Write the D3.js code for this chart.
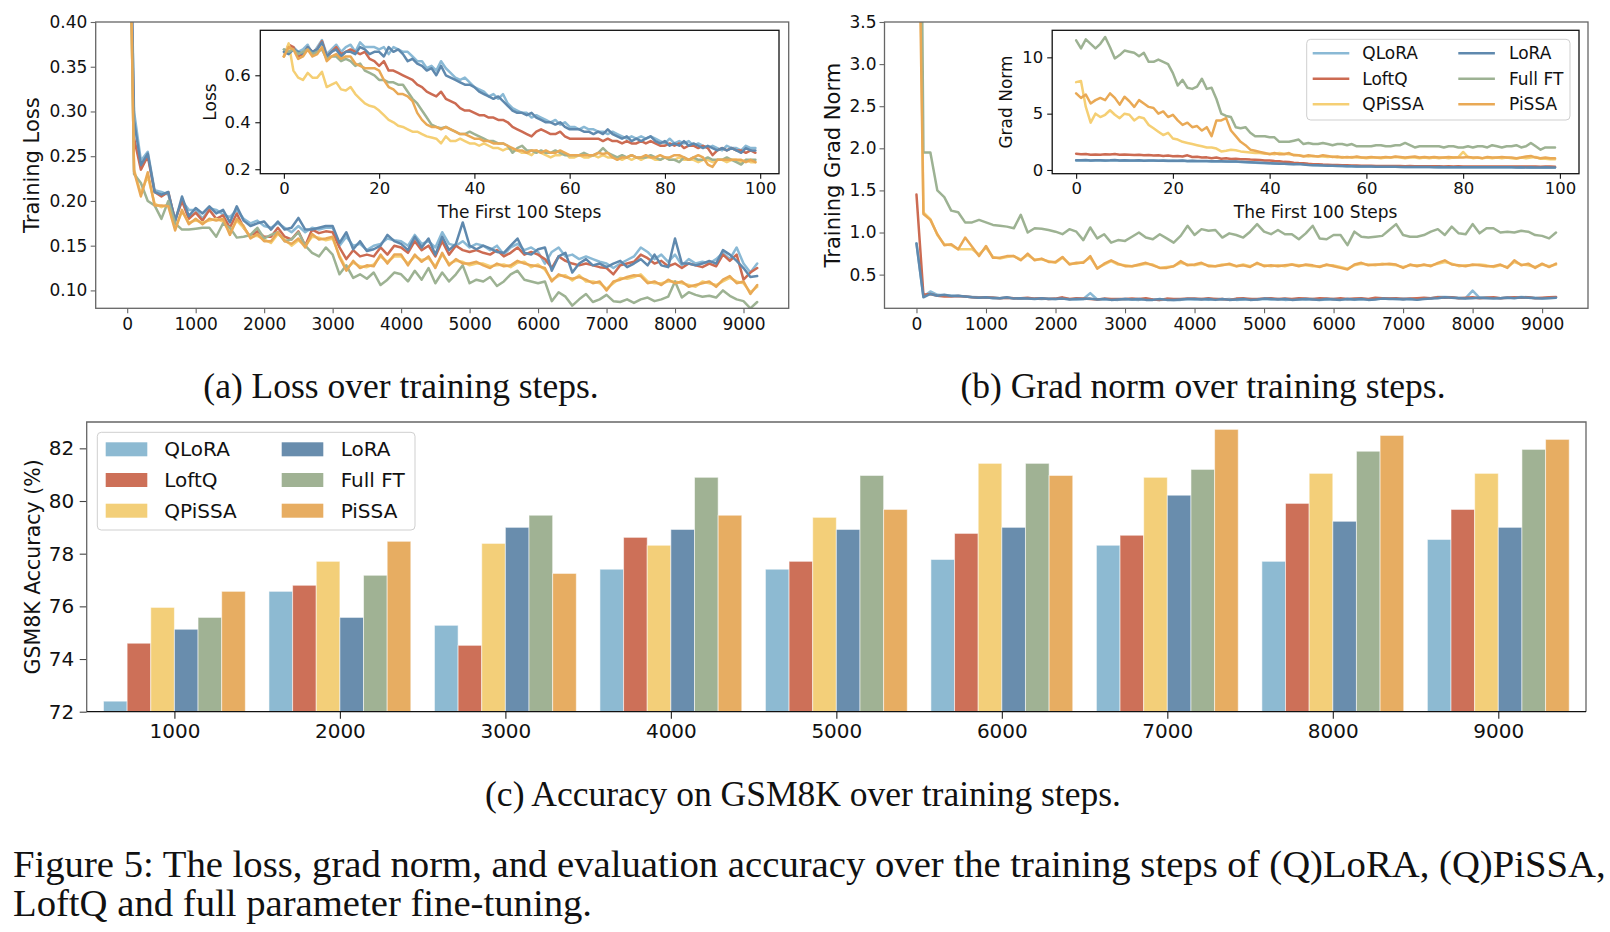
<!DOCTYPE html>
<html>
<head>
<meta charset="utf-8">
<script src="https://cdn.jsdelivr.net/npm/d3@7"></script>
<style>
  body { margin: 0; background: #fff; }
  .cap { font-family: "Liberation Serif", "Times New Roman", serif; fill: #111; }
</style>
</head>
<body>
<svg id="fig" width="1610" height="932"></svg>
<script>
// ---------- data ----------
var methods = ["QLoRA", "LoftQ", "QPiSSA", "LoRA", "Full FT", "PiSSA"];
var lineColors = ["#8ab9d5", "#cc6b52", "#f5cf74", "#5f89ae", "#9db293", "#e9a955"];
var barColors  = ["#8dbad2", "#cd7058", "#f3cf79", "#698dad", "#a0b294", "#e7ad62"];

// training loss, logged every 100 steps (0 .. 9200)
var lossQLoRA = [0.70,0.30,0.245,0.255,0.212,0.21,0.207,0.18,0.20,0.19,
  0.19,0.18,0.192,0.19,0.185,0.182,0.19,0.18,0.175,0.178,
  0.172,0.17,0.175,0.17,0.165,0.172,0.165,0.17,0.168,0.17,
  0.17,0.15,0.16,0.15,0.152,0.145,0.15,0.152,0.158,0.156,
  0.155,0.15,0.162,0.152,0.155,0.148,0.165,0.152,0.15,0.155,
  0.148,0.152,0.15,0.145,0.15,0.14,0.148,0.152,0.145,0.148,
  0.143,0.13,0.143,0.148,0.138,0.14,0.135,0.138,0.135,0.132,
  0.13,0.125,0.13,0.134,0.138,0.148,0.143,0.135,0.14,0.132,
  0.14,0.128,0.135,0.13,0.132,0.13,0.135,0.142,0.135,0.148,
  0.13,0.12,0.13];
var lossLoftQ = [0.70,0.27,0.235,0.25,0.21,0.205,0.21,0.178,0.20,0.18,
  0.187,0.178,0.19,0.18,0.184,0.17,0.186,0.17,0.16,0.166,
  0.16,0.16,0.17,0.16,0.157,0.166,0.15,0.168,0.164,0.166,
  0.165,0.148,0.135,0.145,0.138,0.14,0.138,0.148,0.14,0.15,
  0.148,0.142,0.155,0.145,0.15,0.138,0.155,0.14,0.15,0.145,
  0.143,0.145,0.142,0.14,0.145,0.138,0.142,0.148,0.14,0.143,
  0.14,0.135,0.125,0.138,0.133,0.13,0.128,0.13,0.128,0.126,
  0.125,0.118,0.128,0.13,0.132,0.14,0.136,0.13,0.133,0.127,
  0.13,0.125,0.13,0.128,0.126,0.13,0.127,0.14,0.133,0.14,
  0.112,0.12,0.125];
var lossQPiSSA = [0.68,0.235,0.208,0.228,0.197,0.193,0.196,0.17,0.188,0.176,
  0.178,0.176,0.178,0.18,0.177,0.165,0.178,0.17,0.16,0.161,
  0.157,0.153,0.163,0.157,0.15,0.156,0.15,0.16,0.159,0.156,
  0.158,0.139,0.124,0.131,0.127,0.126,0.129,0.138,0.132,0.138,
  0.138,0.13,0.138,0.134,0.136,0.127,0.14,0.13,0.133,0.132,
  0.128,0.13,0.13,0.127,0.128,0.129,0.126,0.131,0.132,0.126,
  0.129,0.123,0.112,0.116,0.117,0.111,0.117,0.11,0.11,0.108,
  0.102,0.108,0.114,0.113,0.115,0.118,0.11,0.108,0.108,0.11,
  0.11,0.108,0.106,0.104,0.11,0.108,0.106,0.11,0.114,0.11,
  0.108,0.098,0.104];
var lossLoRA = [0.70,0.29,0.24,0.253,0.21,0.207,0.21,0.177,0.205,0.183,
  0.192,0.186,0.194,0.186,0.19,0.176,0.194,0.178,0.172,0.175,
  0.177,0.168,0.177,0.168,0.17,0.181,0.168,0.168,0.17,0.172,
  0.172,0.153,0.165,0.146,0.155,0.144,0.146,0.15,0.162,0.155,
  0.152,0.145,0.16,0.148,0.158,0.14,0.16,0.145,0.152,0.176,
  0.15,0.146,0.15,0.147,0.143,0.142,0.15,0.158,0.142,0.14,
  0.146,0.148,0.122,0.138,0.142,0.12,0.13,0.135,0.128,0.13,
  0.126,0.13,0.133,0.126,0.13,0.135,0.128,0.14,0.128,0.126,
  0.158,0.13,0.13,0.128,0.13,0.133,0.13,0.145,0.14,0.133,
  0.125,0.115,0.116];
var lossFullFT = [0.71,0.23,0.22,0.20,0.195,0.18,0.20,0.175,0.168,0.168,
  0.169,0.17,0.17,0.16,0.175,0.17,0.159,0.16,0.162,0.17,
  0.158,0.162,0.165,0.155,0.157,0.165,0.15,0.142,0.138,0.148,
  0.14,0.118,0.128,0.114,0.118,0.113,0.12,0.106,0.112,0.12,
  0.118,0.11,0.122,0.112,0.125,0.108,0.12,0.11,0.118,0.128,
  0.108,0.112,0.11,0.115,0.105,0.11,0.118,0.122,0.112,0.11,
  0.108,0.11,0.088,0.098,0.093,0.083,0.09,0.096,0.087,0.09,
  0.095,0.088,0.087,0.09,0.086,0.09,0.092,0.088,0.09,0.093,
  0.11,0.092,0.098,0.095,0.093,0.094,0.092,0.1,0.094,0.09,
  0.088,0.08,0.087];
var lossPiSSA = [0.70,0.233,0.205,0.232,0.195,0.195,0.194,0.167,0.19,0.174,
  0.18,0.174,0.18,0.178,0.18,0.162,0.18,0.172,0.158,0.163,
  0.155,0.155,0.165,0.155,0.152,0.158,0.148,0.163,0.157,0.158,
  0.16,0.137,0.122,0.133,0.125,0.128,0.127,0.14,0.13,0.14,
  0.14,0.128,0.14,0.132,0.138,0.125,0.142,0.128,0.135,0.13,
  0.13,0.132,0.128,0.125,0.13,0.127,0.128,0.133,0.13,0.128,
  0.127,0.125,0.11,0.118,0.115,0.113,0.115,0.112,0.108,0.11,
  0.1,0.11,0.112,0.115,0.117,0.116,0.108,0.11,0.106,0.112,
  0.108,0.11,0.104,0.106,0.108,0.11,0.104,0.112,0.116,0.108,
  0.11,0.096,0.106];

// loss over the first 100 steps (0 .. 99)
var firstLossQLoRA = [0.71,0.70,0.72,0.70,0.71,0.73,0.69,0.72,0.75,0.69,
  0.71,0.73,0.70,0.72,0.73,0.70,0.74,0.72,0.72,0.72,
  0.71,0.72,0.69,0.72,0.71,0.70,0.70,0.68,0.66,0.66,
  0.63,0.64,0.62,0.66,0.63,0.61,0.59,0.58,0.59,0.57,
  0.55,0.54,0.53,0.51,0.52,0.50,0.52,0.48,0.46,0.45,
  0.44,0.44,0.42,0.43,0.42,0.41,0.40,0.41,0.39,0.40,
  0.38,0.38,0.37,0.38,0.37,0.37,0.36,0.36,0.35,0.36,
  0.35,0.34,0.33,0.34,0.33,0.34,0.33,0.34,0.33,0.32,
  0.31,0.33,0.31,0.32,0.31,0.32,0.30,0.31,0.30,0.29,
  0.30,0.29,0.28,0.30,0.29,0.29,0.28,0.30,0.29,0.29];
var firstLossLoftQ = [0.68,0.73,0.72,0.68,0.69,0.72,0.70,0.71,0.745,0.68,
  0.70,0.72,0.69,0.70,0.71,0.70,0.69,0.70,0.67,0.66,
  0.64,0.66,0.62,0.62,0.61,0.60,0.59,0.58,0.56,0.55,
  0.53,0.52,0.51,0.53,0.50,0.49,0.48,0.46,0.45,0.45,
  0.44,0.43,0.43,0.42,0.42,0.41,0.41,0.40,0.38,0.37,
  0.36,0.35,0.34,0.36,0.37,0.36,0.35,0.35,0.36,0.34,
  0.33,0.33,0.33,0.33,0.33,0.33,0.33,0.32,0.33,0.32,
  0.32,0.31,0.32,0.31,0.31,0.32,0.31,0.32,0.31,0.30,
  0.30,0.31,0.30,0.31,0.29,0.30,0.30,0.29,0.30,0.29,
  0.26,0.28,0.29,0.28,0.29,0.28,0.28,0.27,0.28,0.27];
var firstLossQPiSSA = [0.68,0.736,0.62,0.59,0.58,0.61,0.59,0.59,0.615,0.55,
  0.56,0.57,0.54,0.535,0.55,0.52,0.50,0.48,0.47,0.465,
  0.45,0.43,0.41,0.40,0.385,0.38,0.37,0.36,0.36,0.35,
  0.34,0.335,0.33,0.31,0.34,0.32,0.32,0.33,0.32,0.31,
  0.31,0.30,0.31,0.30,0.29,0.29,0.28,0.29,0.28,0.28,
  0.27,0.27,0.26,0.28,0.27,0.26,0.25,0.26,0.26,0.27,
  0.25,0.25,0.26,0.25,0.25,0.26,0.25,0.26,0.25,0.25,
  0.25,0.24,0.25,0.24,0.25,0.24,0.25,0.25,0.24,0.24,
  0.25,0.24,0.24,0.25,0.24,0.24,0.24,0.23,0.24,0.24,
  0.23,0.24,0.24,0.23,0.24,0.24,0.23,0.24,0.23,0.23];
var firstLossLoRA = [0.70,0.69,0.71,0.70,0.69,0.72,0.70,0.71,0.74,0.68,
  0.70,0.71,0.68,0.70,0.70,0.69,0.72,0.71,0.69,0.70,
  0.70,0.68,0.72,0.70,0.71,0.69,0.66,0.67,0.65,0.64,
  0.62,0.63,0.60,0.64,0.60,0.59,0.58,0.57,0.56,0.56,
  0.55,0.53,0.52,0.51,0.50,0.51,0.49,0.47,0.45,0.44,
  0.44,0.43,0.44,0.42,0.41,0.40,0.40,0.39,0.40,0.38,
  0.37,0.37,0.37,0.36,0.36,0.35,0.36,0.35,0.37,0.35,
  0.34,0.33,0.34,0.32,0.33,0.32,0.33,0.34,0.32,0.31,
  0.32,0.30,0.31,0.30,0.32,0.30,0.31,0.30,0.29,0.30,
  0.29,0.28,0.29,0.28,0.29,0.28,0.27,0.29,0.28,0.28];
var firstLossFullFT = [0.71,0.70,0.71,0.69,0.70,0.71,0.69,0.70,0.71,0.67,
  0.68,0.68,0.66,0.67,0.66,0.64,0.65,0.62,0.61,0.60,
  0.58,0.58,0.57,0.57,0.56,0.56,0.53,0.50,0.48,0.45,
  0.42,0.39,0.38,0.375,0.38,0.37,0.36,0.35,0.35,0.36,
  0.35,0.34,0.33,0.32,0.32,0.31,0.31,0.30,0.27,0.29,
  0.30,0.28,0.28,0.27,0.28,0.27,0.27,0.28,0.27,0.26,
  0.26,0.26,0.26,0.27,0.26,0.26,0.27,0.29,0.27,0.26,
  0.25,0.26,0.25,0.26,0.25,0.25,0.25,0.26,0.25,0.24,
  0.25,0.24,0.24,0.23,0.25,0.24,0.25,0.24,0.24,0.25,
  0.24,0.24,0.24,0.25,0.24,0.23,0.22,0.24,0.24,0.24];
var firstLossPiSSA = [0.68,0.72,0.71,0.67,0.68,0.71,0.68,0.69,0.72,0.66,
  0.68,0.69,0.67,0.68,0.68,0.65,0.64,0.63,0.63,0.63,
  0.62,0.58,0.55,0.54,0.52,0.52,0.51,0.49,0.44,0.41,
  0.39,0.38,0.38,0.37,0.38,0.37,0.36,0.35,0.35,0.34,
  0.33,0.33,0.32,0.32,0.31,0.31,0.31,0.30,0.29,0.28,
  0.28,0.27,0.28,0.28,0.27,0.28,0.27,0.27,0.28,0.27,
  0.26,0.26,0.26,0.26,0.26,0.26,0.27,0.265,0.27,0.25,
  0.24,0.25,0.25,0.26,0.25,0.25,0.26,0.25,0.25,0.26,
  0.25,0.25,0.26,0.26,0.25,0.24,0.25,0.26,0.25,0.22,
  0.21,0.24,0.24,0.24,0.24,0.24,0.24,0.23,0.24,0.23];

// training grad norm, logged every 100 steps (0 .. 9200)
var gradQLoRA = [0.87,0.24,0.30,0.26,0.255,0.25,0.245,0.24,0.235,0.23,
  0.225,0.23,0.22,0.225,0.22,0.215,0.22,0.215,0.21,0.215,
  0.21,0.22,0.21,0.205,0.21,0.28,0.205,0.21,0.205,0.2,
  0.21,0.205,0.2,0.21,0.205,0.2,0.205,0.2,0.2,0.21,
  0.205,0.21,0.2,0.21,0.205,0.21,0.2,0.205,0.21,0.2,
  0.21,0.205,0.21,0.2,0.205,0.21,0.205,0.21,0.2,0.205,
  0.21,0.205,0.21,0.2,0.21,0.205,0.21,0.22,0.215,0.21,
  0.215,0.21,0.205,0.215,0.22,0.235,0.235,0.23,0.225,0.22,
  0.31,0.225,0.23,0.225,0.22,0.23,0.225,0.235,0.23,0.225,
  0.22,0.225,0.23];
var gradLoftQ = [1.45,0.26,0.27,0.25,0.24,0.24,0.245,0.24,0.23,0.225,
  0.23,0.225,0.22,0.225,0.22,0.22,0.225,0.215,0.22,0.21,
  0.215,0.23,0.21,0.22,0.215,0.21,0.205,0.215,0.21,0.21,
  0.21,0.215,0.21,0.22,0.205,0.2,0.215,0.21,0.21,0.215,
  0.215,0.21,0.22,0.21,0.21,0.2,0.215,0.22,0.21,0.21,
  0.215,0.22,0.21,0.215,0.21,0.22,0.215,0.21,0.22,0.215,
  0.21,0.22,0.21,0.215,0.22,0.21,0.225,0.22,0.215,0.22,
  0.21,0.215,0.22,0.225,0.22,0.23,0.225,0.23,0.22,0.225,
  0.23,0.22,0.225,0.23,0.22,0.225,0.23,0.225,0.23,0.22,
  0.225,0.23,0.235];
var gradQPiSSA = [7.8,1.24,1.16,0.97,0.86,0.85,0.80,0.80,0.80,0.74,
  0.82,0.71,0.69,0.71,0.72,0.68,0.73,0.68,0.68,0.66,
  0.64,0.70,0.63,0.63,0.65,0.70,0.58,0.62,0.66,0.62,
  0.61,0.60,0.61,0.63,0.62,0.58,0.59,0.60,0.64,0.62,
  0.61,0.63,0.61,0.60,0.62,0.62,0.60,0.62,0.60,0.63,
  0.61,0.60,0.61,0.60,0.62,0.61,0.61,0.60,0.60,0.61,
  0.61,0.59,0.57,0.61,0.63,0.62,0.61,0.63,0.62,0.61,
  0.59,0.61,0.61,0.61,0.61,0.63,0.65,0.63,0.60,0.61,
  0.61,0.62,0.61,0.59,0.61,0.59,0.65,0.62,0.61,0.59,
  0.62,0.60,0.62];
var gradLoRA = [0.87,0.23,0.27,0.25,0.26,0.245,0.25,0.24,0.23,0.225,
  0.23,0.22,0.22,0.23,0.215,0.22,0.215,0.21,0.22,0.21,
  0.21,0.215,0.205,0.21,0.21,0.215,0.205,0.21,0.2,0.205,
  0.21,0.205,0.21,0.2,0.2,0.21,0.2,0.2,0.205,0.21,
  0.21,0.205,0.21,0.2,0.21,0.2,0.205,0.21,0.2,0.205,
  0.215,0.21,0.205,0.21,0.2,0.205,0.21,0.205,0.2,0.21,
  0.205,0.2,0.21,0.205,0.21,0.2,0.205,0.215,0.21,0.21,
  0.205,0.21,0.2,0.21,0.215,0.22,0.23,0.225,0.22,0.215,
  0.22,0.225,0.22,0.215,0.22,0.225,0.22,0.23,0.225,0.22,
  0.215,0.22,0.225];
var gradFullFT = [11.5,1.95,1.95,1.5,1.42,1.26,1.24,1.12,1.12,1.15,
  1.12,1.09,1.08,1.07,1.05,1.21,1.0,1.05,1.045,1.03,
  1.01,0.98,1.04,1.01,0.91,1.06,0.93,0.98,0.88,0.91,
  0.90,0.95,1.0,0.94,0.92,0.98,0.93,0.88,0.96,1.08,
  0.97,1.04,1.02,1.03,0.94,0.99,0.97,0.94,1.01,1.1,
  1.01,0.98,1.03,0.98,0.98,0.92,0.99,1.08,0.93,0.92,
  0.97,0.97,0.85,1.01,0.95,0.94,0.95,0.96,1.03,1.1,
  0.97,0.95,0.95,0.97,1.01,1.04,0.97,1.07,0.99,0.98,
  1.1,0.99,1.05,1.05,1.0,1.01,1.0,1.02,1.01,0.97,
  0.96,0.93,1.0];
var gradPiSSA = [6.7,1.22,1.15,0.98,0.85,0.86,0.80,0.94,0.83,0.72,
  0.84,0.70,0.70,0.72,0.72,0.67,0.75,0.67,0.69,0.65,
  0.65,0.71,0.62,0.64,0.64,0.72,0.57,0.63,0.67,0.63,
  0.60,0.60,0.62,0.64,0.61,0.58,0.58,0.60,0.66,0.61,
  0.62,0.64,0.60,0.60,0.61,0.63,0.60,0.61,0.59,0.64,
  0.60,0.61,0.60,0.61,0.62,0.60,0.62,0.61,0.59,0.62,
  0.60,0.58,0.56,0.62,0.64,0.61,0.62,0.62,0.63,0.62,
  0.58,0.62,0.60,0.62,0.60,0.64,0.67,0.62,0.61,0.60,
  0.62,0.61,0.60,0.60,0.62,0.58,0.67,0.61,0.63,0.58,
  0.63,0.59,0.63];

// grad norm over the first 100 steps (0 .. 99)
var firstGradQLoRA = [0.85,0.84,0.86,0.83,0.84,0.85,0.83,0.84,0.86,0.82,
  0.84,0.83,0.82,0.84,0.81,0.83,0.82,0.81,0.83,0.80,
  0.81,0.80,0.82,0.78,0.80,0.78,0.77,0.78,0.76,0.76,
  0.76,0.75,0.74,0.75,0.71,0.69,0.67,0.65,0.63,0.62,
  0.60,0.58,0.57,0.55,0.54,0.52,0.58,0.50,0.46,0.44,
  0.43,0.41,0.39,0.38,0.37,0.35,0.34,0.34,0.32,0.31,
  0.31,0.30,0.30,0.29,0.29,0.28,0.28,0.28,0.27,0.27,
  0.27,0.26,0.26,0.26,0.26,0.25,0.26,0.25,0.25,0.25,
  0.25,0.25,0.24,0.25,0.24,0.24,0.25,0.24,0.24,0.24,
  0.24,0.24,0.23,0.24,0.23,0.24,0.23,0.23,0.24,0.23];
var firstGradLoftQ = [1.45,1.40,1.42,1.35,1.38,1.36,1.40,1.38,1.42,1.35,
  1.38,1.35,1.32,1.36,1.30,1.32,1.28,1.30,1.25,1.28,
  1.22,1.25,1.20,1.30,1.15,1.18,1.10,1.12,1.05,1.10,
  1.00,1.05,0.98,1.00,0.95,0.95,0.92,0.90,0.88,0.85,
  0.85,0.80,0.78,0.72,0.70,0.65,0.62,0.60,0.55,0.52,
  0.50,0.48,0.47,0.45,0.44,0.42,0.41,0.40,0.40,0.38,
  0.38,0.37,0.36,0.36,0.35,0.36,0.35,0.35,0.34,0.35,
  0.34,0.34,0.33,0.34,0.33,0.33,0.32,0.33,0.32,0.33,
  0.32,0.32,0.31,0.32,0.31,0.32,0.31,0.30,0.31,0.30,
  0.31,0.30,0.30,0.31,0.30,0.30,0.29,0.30,0.30,0.29];
var firstGradQPiSSA = [7.8,7.9,5.6,4.2,5.0,4.7,4.9,5.3,4.9,4.6,
  5.0,4.9,4.4,4.7,4.6,4.0,3.7,3.4,3.1,3.3,
  2.8,2.7,2.5,2.4,2.3,2.2,2.1,2.0,2.0,1.9,
  1.65,1.7,1.8,1.75,1.65,1.6,1.55,1.5,1.5,1.45,
  1.45,1.4,1.5,1.45,1.4,1.35,1.3,1.25,1.2,1.25,
  1.2,1.2,1.15,1.2,1.1,1.15,1.1,1.15,1.1,1.1,
  1.05,1.1,1.1,1.05,1.1,1.1,1.15,1.1,1.05,1.1,
  1.1,1.05,1.1,1.05,1.1,1.05,1.1,1.05,1.1,1.15,
  1.6,1.15,1.05,1.1,1.05,1.1,1.05,1.1,1.05,1.1,
  1.05,1.0,1.1,1.05,1.1,1.15,1.0,1.0,0.95,0.95];
var firstGradLoRA = [0.87,0.86,0.88,0.85,0.86,0.87,0.85,0.86,0.88,0.84,
  0.86,0.85,0.84,0.86,0.83,0.85,0.84,0.83,0.85,0.82,
  0.83,0.82,0.84,0.80,0.82,0.80,0.79,0.80,0.78,0.77,
  0.78,0.76,0.75,0.76,0.72,0.70,0.68,0.66,0.64,0.62,
  0.60,0.58,0.56,0.55,0.53,0.50,0.52,0.48,0.45,0.43,
  0.42,0.40,0.38,0.37,0.36,0.35,0.34,0.33,0.32,0.31,
  0.30,0.30,0.29,0.29,0.28,0.28,0.28,0.27,0.27,0.27,
  0.26,0.26,0.26,0.26,0.25,0.26,0.25,0.25,0.25,0.25,
  0.25,0.24,0.25,0.24,0.24,0.25,0.24,0.24,0.24,0.24,
  0.24,0.23,0.24,0.23,0.24,0.23,0.23,0.24,0.23,0.23];
var firstGradFullFT = [11.5,10.8,11.6,11.2,10.8,11.2,11.8,10.9,9.9,10.2,
  10.6,10.5,10.4,10.1,10.4,9.6,9.6,9.8,9.6,9.4,
  8.6,7.5,8.0,7.3,7.2,7.4,8.1,7.2,7.3,6.3,
  5.0,4.8,4.7,3.8,3.7,3.8,3.3,3.0,3.0,3.0,
  2.9,2.9,2.5,2.5,2.5,2.6,2.7,2.3,2.4,2.3,
  2.3,2.4,2.3,2.2,2.3,2.3,2.2,2.3,2.1,2.1,
  2.1,2.1,2.2,2.2,2.1,2.1,2.2,2.2,2.4,2.2,
  2.0,2.1,2.1,2.1,2.1,2.1,2.0,2.1,2.1,2.0,
  2.0,2.1,2.0,2.1,2.1,2.0,2.2,2.1,2.0,2.1,
  2.1,2.2,2.0,2.1,2.4,2.1,1.8,2.0,2.0,2.0];
var firstGradPiSSA = [6.8,6.4,6.7,5.9,6.2,6.4,6.2,6.8,6.4,5.8,
  6.5,6.1,5.6,6.2,5.9,5.6,5.5,5.0,5.2,4.7,
  4.9,4.4,4.0,4.2,3.8,3.9,3.5,3.8,3.0,4.4,
  4.4,4.6,3.5,3.0,2.5,2.2,1.8,1.7,1.6,1.5,
  1.4,1.5,1.4,1.4,1.5,1.3,1.3,1.2,1.3,1.25,
  1.2,1.3,1.25,1.15,1.2,1.1,1.15,1.1,1.2,1.1,
  1.1,1.15,1.1,1.1,1.15,1.1,1.2,1.15,1.1,1.15,
  1.2,1.1,1.15,1.1,1.15,1.1,1.1,1.15,1.1,1.1,
  1.1,1.15,1.1,1.1,1.05,1.15,1.1,1.1,1.15,1.1,
  1.1,1.05,1.1,1.2,1.25,1.1,1.05,1.1,1.05,1.05];

// GSM8K accuracy (%) at evaluation checkpoints
var evalSteps = [1000, 2000, 3000, 4000, 5000, 6000, 7000, 8000, 9000];
var accQLoRA  = [72.4, 76.57, 75.28, 77.41, 77.41, 77.78, 78.32, 77.71, 78.54];
var accLoftQ  = [74.6, 76.8, 74.52, 78.62, 77.71, 78.77, 78.7, 79.91, 79.68];
var accQPiSSA = [75.96, 77.71, 78.39, 78.32, 79.38, 81.43, 80.9, 81.05, 81.05];
var accLoRA   = [75.13, 75.58, 79.0, 78.92, 78.92, 79.0, 80.22, 79.23, 79.0];
var accFullFT = [75.58, 77.18, 79.46, 80.9, 80.97, 81.43, 81.2, 81.89, 81.96];
var accPiSSA  = [76.57, 78.47, 77.25, 79.46, 79.68, 80.97, 82.72, 82.49, 82.34];

var mainSteps = d3.range(0, 9201, 100);
var firstSteps = d3.range(0, 100);

// ---------- drawing ----------
var FONT = "DejaVu Sans, sans-serif";
var svg = d3.select("#fig");

function styleAxis(a, fs, tickColor) {
  a.select(".domain").remove();
  a.attr("font-family", FONT).attr("font-size", fs);
  a.selectAll(".tick line").attr("stroke", tickColor).attr("stroke-width", 1.1);
  a.selectAll(".tick text").attr("fill", "#111");
}

function panel(cfg) {
  var b = cfg.box;
  var x = d3.scaleLinear().domain(cfg.xDomain).range([b.x0, b.x1]);
  var y = d3.scaleLinear().domain(cfg.yDomain).range([b.y1, b.y0]);
  var g = svg.append("g");

  g.append("rect").attr("x", b.x0).attr("y", b.y0)
    .attr("width", b.x1 - b.x0).attr("height", b.y1 - b.y0).attr("fill", "#fff");

  g.append("clipPath").attr("id", "clip-" + cfg.id).append("rect")
    .attr("x", b.x0).attr("y", b.y0).attr("width", b.x1 - b.x0).attr("height", b.y1 - b.y0);

  var plot = g.append("g").attr("clip-path", "url(#clip-" + cfg.id + ")");
  var line = d3.line().x(function (d, i) { return x(cfg.xs[i]); }).y(function (d) { return y(d); });
  cfg.series.forEach(function (s, k) {
    plot.append("path").attr("d", line(s)).attr("fill", "none")
      .attr("stroke", lineColors[k]).attr("stroke-width", 2.5)
      .attr("stroke-linejoin", "round").attr("stroke-linecap", "round");
  });

  var ax = g.append("g").attr("transform", "translate(0," + b.y1 + ")")
    .call(d3.axisBottom(x).tickValues(cfg.xTicks).tickFormat(d3.format("d"))
      .tickSize(5).tickPadding(cfg.xPad));
  var ay = g.append("g").attr("transform", "translate(" + b.x0 + ",0)")
    .call(d3.axisLeft(y).tickValues(cfg.yTicks).tickFormat(cfg.yFmt)
      .tickSize(5).tickPadding(cfg.yPad));
  styleAxis(ax, cfg.fs, cfg.spine);
  styleAxis(ay, cfg.fs, cfg.spine);

  g.append("rect").attr("x", b.x0).attr("y", b.y0)
    .attr("width", b.x1 - b.x0).attr("height", b.y1 - b.y0)
    .attr("fill", "none").attr("stroke", cfg.spine).attr("stroke-width", 1.3);

  if (cfg.xLabel) {
    g.append("text").attr("x", (b.x0 + b.x1) / 2).attr("y", cfg.xLabelY)
      .attr("text-anchor", "middle").attr("font-family", FONT).attr("font-size", cfg.labelFs)
      .attr("fill", "#111").text(cfg.xLabel);
  }
  g.append("text")
    .attr("transform", "translate(" + cfg.yLabelX + "," + (b.y0 + b.y1) / 2 + ") rotate(-90)")
    .attr("text-anchor", "middle").attr("dy", "0.35em")
    .attr("font-family", FONT).attr("font-size", cfg.labelFs).attr("fill", "#111")
    .text(cfg.yLabel);
  return g;
}

// (a) loss
panel({
  id: "lossMain", box: { x0: 95.7, x1: 788.7, y0: 22, y1: 308.3 },
  xDomain: [-460, 9660], yDomain: [0.08, 0.40], xs: mainSteps,
  series: [lossQLoRA, lossLoftQ, lossQPiSSA, lossLoRA, lossFullFT, lossPiSSA],
  xTicks: d3.range(0, 9001, 1000), yTicks: [0.10, 0.15, 0.20, 0.25, 0.30, 0.35, 0.40],
  yFmt: d3.format(".2f"), fs: 17, xPad: 5, yPad: 3.4, spine: "#666",
  yLabel: "Training Loss", yLabelX: 32, labelFs: 21
});
panel({
  id: "lossFirst", box: { x0: 260.3, x1: 779, y0: 30.3, y1: 173.7 },
  xDomain: [-4.95, 103.95], yDomain: [0.181, 0.7915], xs: firstSteps,
  series: [firstLossQLoRA, firstLossLoftQ, firstLossQPiSSA, firstLossLoRA, firstLossFullFT, firstLossPiSSA],
  xTicks: [0, 20, 40, 60, 80, 100], yTicks: [0.2, 0.4, 0.6],
  yFmt: d3.format(".1f"), fs: 16.5, xPad: 4, yPad: 4.6, spine: "#111",
  xLabel: "The First 100 Steps", xLabelY: 218, yLabel: "Loss", yLabelX: 210, labelFs: 17
});

// (b) grad norm
panel({
  id: "gradMain", box: { x0: 884.5, x1: 1588, y0: 22, y1: 308.3 },
  xDomain: [-460, 9660], yDomain: [0.1, 3.5], xs: mainSteps,
  series: [gradQLoRA, gradLoftQ, gradQPiSSA, gradLoRA, gradFullFT, gradPiSSA],
  xTicks: d3.range(0, 9001, 1000), yTicks: [0.5, 1.0, 1.5, 2.0, 2.5, 3.0, 3.5],
  yFmt: d3.format(".1f"), fs: 17, xPad: 5, yPad: 3, spine: "#666",
  yLabel: "Training Grad Norm", yLabelX: 832.5, labelFs: 21
});
panel({
  id: "gradFirst", box: { x0: 1052.2, x1: 1579, y0: 30.3, y1: 173.7 },
  xDomain: [-4.95, 103.95], yDomain: [-0.33, 12.4], xs: firstSteps,
  series: [firstGradQLoRA, firstGradLoftQ, firstGradQPiSSA, firstGradLoRA, firstGradFullFT, firstGradPiSSA],
  xTicks: [0, 20, 40, 60, 80, 100], yTicks: [0, 5, 10],
  yFmt: d3.format("d"), fs: 16.5, xPad: 4, yPad: 4, spine: "#111",
  xLabel: "The First 100 Steps", xLabelY: 218, yLabel: "Grad Norm", yLabelX: 1006.3, labelFs: 17
});

// legend of the grad-norm inset
(function () {
  var lg = svg.append("g");
  lg.append("rect").attr("x", 1306.7).attr("y", 39.3).attr("width", 263.3).attr("height", 80.7)
    .attr("rx", 4).attr("fill", "#fff").attr("fill-opacity", 0.85)
    .attr("stroke", "#cfcfcf").attr("stroke-width", 1);
  methods.forEach(function (m, i) {
    var col = Math.floor(i / 3), row = i % 3;
    var hx = col === 0 ? 1312.7 : 1458.3;
    var tx = col === 0 ? 1362.3 : 1509;
    var cy = 53.3 + row * 25.5;
    lg.append("line").attr("x1", hx).attr("x2", hx + 36.6).attr("y1", cy).attr("y2", cy)
      .attr("stroke", lineColors[i]).attr("stroke-width", 2.5);
    lg.append("text").attr("x", tx).attr("y", cy).attr("dy", "0.35em")
      .attr("font-family", FONT).attr("font-size", 17).attr("fill", "#111").text(m);
  });
})();

// (c) accuracy bars
(function () {
  var b = { x0: 86.7, x1: 1586, y0: 422, y1: 711.7 };
  var x = d3.scaleLinear().domain([470, 9530]).range([b.x0, b.x1]);
  var y = d3.scaleLinear().domain([72, 83]).range([b.y1, b.y0]);
  var bw = 1000 / 7;
  var accs = [accQLoRA, accLoftQ, accQPiSSA, accLoRA, accFullFT, accPiSSA];
  var g = svg.append("g");

  accs.forEach(function (vals, k) {
    g.selectAll(null).data(vals).enter().append("rect")
      .attr("x", function (d, i) { return x(evalSteps[i] - 3 * bw + k * bw); })
      .attr("width", x(bw) - x(0))
      .attr("y", function (d) { return y(d); })
      .attr("height", function (d) { return y(72) - y(d); })
      .attr("fill", barColors[k])
      .attr("stroke", "#fff").attr("stroke-opacity", 0.55).attr("stroke-width", 1);
  });

  var ax = g.append("g").attr("transform", "translate(0," + b.y1 + ")")
    .call(d3.axisBottom(x).tickValues(evalSteps).tickFormat(d3.format("d")).tickSize(7).tickPadding(5));
  var ay = g.append("g").attr("transform", "translate(" + b.x0 + ",0)")
    .call(d3.axisLeft(y).tickValues([72, 74, 76, 78, 80, 82]).tickSize(7).tickPadding(5.5));
  styleAxis(ax, 20, "#222");
  styleAxis(ay, 20, "#444");

  g.append("path").attr("d", "M" + b.x0 + "," + b.y1 + "V" + b.y0 + "H" + b.x1 + "V" + b.y1)
    .attr("fill", "none").attr("stroke", "#666").attr("stroke-width", 1.3);
  g.append("line").attr("x1", b.x0).attr("x2", b.x1).attr("y1", b.y1).attr("y2", b.y1)
    .attr("stroke", "#111").attr("stroke-width", 1.3);

  g.append("text")
    .attr("transform", "translate(32.5," + (b.y0 + b.y1) / 2 + ") rotate(-90)")
    .attr("text-anchor", "middle").attr("dy", "0.35em")
    .attr("font-family", FONT).attr("font-size", 20.5).attr("fill", "#111")
    .text("GSM8K Accuracy (%)");

  var lg = g.append("g");
  lg.append("rect").attr("x", 97.3).attr("y", 432.3).attr("width", 317.7).attr("height", 97.7)
    .attr("rx", 4).attr("fill", "#fff").attr("fill-opacity", 0.85)
    .attr("stroke", "#cfcfcf").attr("stroke-width", 1);
  methods.forEach(function (m, i) {
    var col = Math.floor(i / 3), row = i % 3;
    var px = col === 0 ? 105.7 : 281.7;
    var tx = col === 0 ? 164.3 : 340.7;
    var cy = 449.3 + row * 30.7;
    lg.append("rect").attr("x", px).attr("y", cy - 7).attr("width", 41.6).attr("height", 14)
      .attr("fill", barColors[i]);
    lg.append("text").attr("x", tx).attr("y", cy).attr("dy", "0.35em")
      .attr("font-family", FONT).attr("font-size", 20).attr("fill", "#111").text(m);
  });
})();

// captions
svg.append("text").attr("class", "cap").attr("x", 401).attr("y", 397.5)
  .attr("text-anchor", "middle").attr("font-size", 35.5).text("(a) Loss over training steps.");
svg.append("text").attr("class", "cap").attr("x", 1203).attr("y", 397.5)
  .attr("text-anchor", "middle").attr("font-size", 35.5).text("(b) Grad norm over training steps.");
svg.append("text").attr("class", "cap").attr("x", 803).attr("y", 806)
  .attr("text-anchor", "middle").attr("font-size", 35.5).text("(c) Accuracy on GSM8K over training steps.");
svg.append("text").attr("class", "cap").attr("x", 13).attr("y", 877).attr("font-size", 38.7)
  .text("Figure 5: The loss, grad norm, and evaluation accuracy over the training steps of (Q)LoRA, (Q)PiSSA,");
svg.append("text").attr("class", "cap").attr("x", 13).attr("y", 916).attr("font-size", 38.7)
  .text("LoftQ and full parameter fine-tuning.");
</script>
</body>
</html>
